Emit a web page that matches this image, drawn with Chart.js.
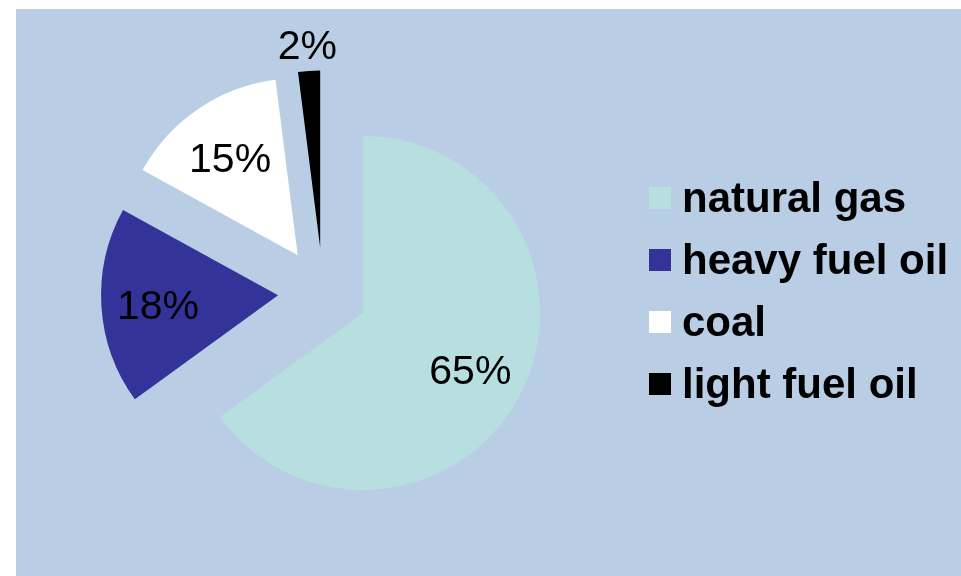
<!DOCTYPE html>
<html>
<head>
<meta charset="utf-8">
<script src="https://cdn.jsdelivr.net/npm/chart.js@4/dist/chart.umd.min.js"></script>
<style>
  body { margin: 0; background: #fff; }
  #frame {
    position: absolute;
    left: 16px; top: 9px;
    width: 945px; height: 567px;
    background: #b9cde5;
  }
  #pie { position: absolute; left: 0; top: 0; }
  #legend {
    position: absolute;
    left: 633px; top: 158px;
    margin: 0; padding: 0;
    list-style: none;
    font: bold 42px "Liberation Sans", Arial, sans-serif;
    color: #000;
  }
  #legend li {
    display: flex;
    align-items: center;
    height: 62px;
    line-height: 62px;
    white-space: nowrap;
  }
  #legend .box {
    display: inline-block;
    width: 22px; height: 22px;
    margin-right: 11px;
  }
</style>
</head>
<body>
<div id="frame">
  <canvas id="pie" width="945" height="567"></canvas>
  <ul id="legend"></ul>
</div>
<script>
var fuels = ['natural gas', 'heavy fuel oil', 'coal', 'light fuel oil'];
var shares = [65, 18, 15, 2];
var fuelColors = ['#b8dfe0', '#333399', '#ffffff', '#000000'];

// pull every slice out along its middle angle by the same distance
var explodePlugin = {
  id: 'explode',
  afterDatasetUpdate: function (chart, args, opts) {
    var dist = opts.distance || 0;
    args.meta.data.forEach(function (arc) {
      var mid = (arc.startAngle + arc.endAngle) / 2;
      arc.x += Math.cos(mid) * dist;
      arc.y += Math.sin(mid) * dist;
    });
  }
};

// percentage text inside the slice, or just outside it for thin ones
var percentPlugin = {
  id: 'percent',
  afterDatasetsDraw: function (chart) {
    var ctx = chart.ctx;
    var meta = chart.getDatasetMeta(0);
    var values = chart.data.datasets[0].data;
    ctx.save();
    ctx.font = '41px "Liberation Sans", Arial, sans-serif';
    ctx.fillStyle = '#000';
    ctx.textAlign = 'center';
    ctx.textBaseline = 'middle';
    meta.data.forEach(function (arc, i) {
      var mid = (arc.startAngle + arc.endAngle) / 2;
      var r = values[i] < 5 ? arc.outerRadius + 28 : arc.outerRadius * 0.68;
      // digits sit high in the em box, nudge them down a little
      ctx.fillText(values[i] + '%', arc.x + Math.cos(mid) * r, arc.y + Math.sin(mid) * r + 5);
    });
    ctx.restore();
  }
};

var ctx = document.getElementById('pie').getContext('2d');
var chart = new Chart(ctx, {
  type: 'pie',
  data: {
    labels: fuels,
    datasets: [{
      data: shares,
      backgroundColor: fuelColors,
      borderWidth: 0
    }]
  },
  options: {
    responsive: false,
    animation: false,
    radius: 177,
    layout: { padding: { right: 331 } },
    plugins: {
      legend: { display: false },
      tooltip: { enabled: false },
      explode: { distance: 45 }
    }
  },
  plugins: [explodePlugin, percentPlugin]
});

// legend list built from the chart's own label items
var list = document.getElementById('legend');
Chart.overrides.pie.plugins.legend.labels.generateLabels(chart).forEach(function (item) {
  var li = document.createElement('li');
  var box = document.createElement('span');
  box.className = 'box';
  box.style.background = item.fillStyle;
  li.appendChild(box);
  li.appendChild(document.createTextNode(item.text));
  list.appendChild(li);
});
</script>
</body>
</html>
